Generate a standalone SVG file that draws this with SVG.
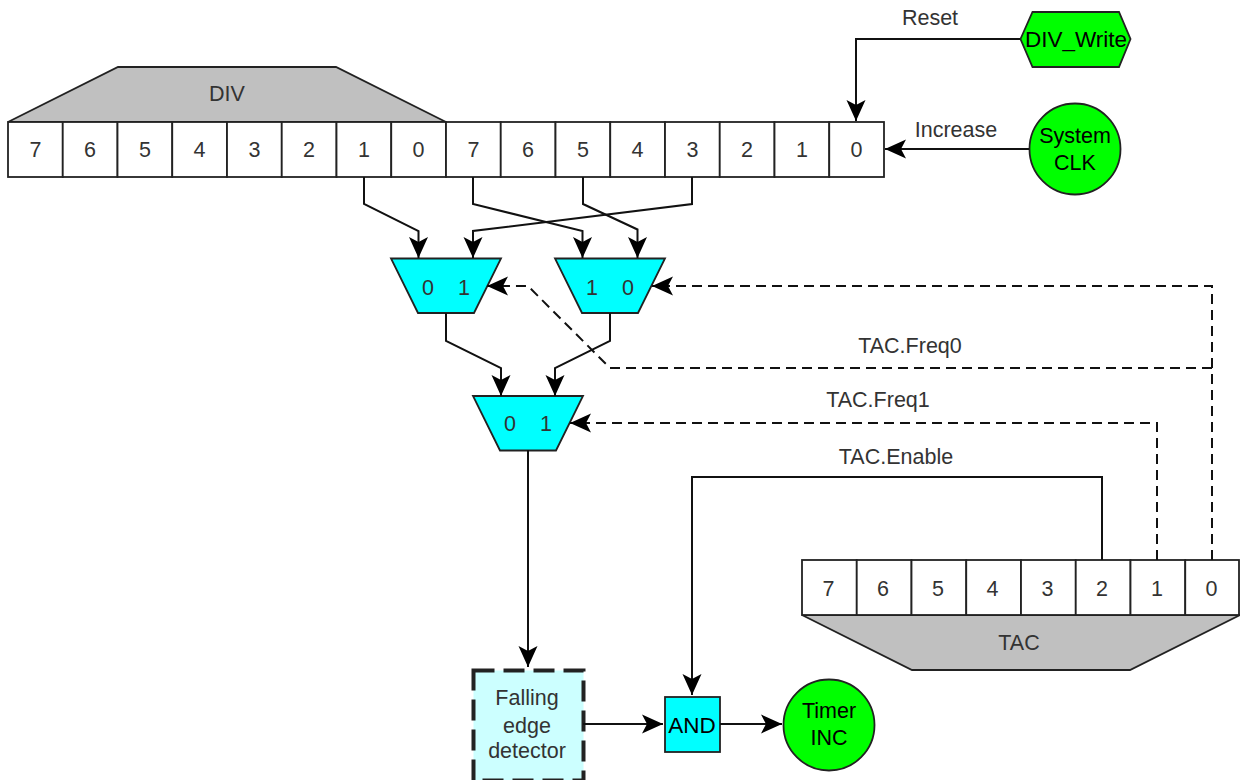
<svg xmlns="http://www.w3.org/2000/svg" width="1240" height="780" viewBox="0 0 1240 780">
<style>
text{font-family:"Liberation Sans",Arial,sans-serif;font-size:21.5px;fill:#333;text-anchor:middle}
.k{fill:#000}
.w{font-size:22.5px}
.c{fill:#fff;stroke:#222;stroke-width:1.8}
.g{fill:#c0c0c0;stroke:#222;stroke-width:1.8}
.m{fill:#00ffff;stroke:#222;stroke-width:1.8}
.n{fill:#00ff00;stroke:#222;stroke-width:1.8}
.l{fill:none;stroke:#111;stroke-width:2;marker-end:url(#a)}
.d{stroke-dasharray:10 6}
</style>
<defs>
<marker id="a" markerUnits="userSpaceOnUse" markerWidth="24" markerHeight="24" refX="21" refY="10" orient="auto">
<path d="M21 10L0 0.500L5 10L0 19.500Z" fill="#000"/>
</marker>
</defs>
<rect width="1240" height="780" fill="#fff"/>
<g id="DIV">
<path class="g" d="M8 122L118 67H336L446 122Z"/>
<text x="227" y="101">DIV</text>
<rect class="c" x="8" y="122" width="54.75" height="55"/><text x="35.4" y="157">7</text>
<rect class="c" x="62.75" y="122" width="54.75" height="55"/><text x="90.1" y="157">6</text>
<rect class="c" x="117.5" y="122" width="54.75" height="55"/><text x="144.9" y="157">5</text>
<rect class="c" x="172.25" y="122" width="54.75" height="55"/><text x="199.6" y="157">4</text>
<rect class="c" x="227" y="122" width="54.75" height="55"/><text x="254.4" y="157">3</text>
<rect class="c" x="281.75" y="122" width="54.75" height="55"/><text x="309.1" y="157">2</text>
<rect class="c" x="336.5" y="122" width="54.75" height="55"/><text x="363.9" y="157">1</text>
<rect class="c" x="391.25" y="122" width="54.75" height="55"/><text x="418.6" y="157">0</text>
<rect class="c" x="446" y="122" width="54.75" height="55"/><text x="473.4" y="157">7</text>
<rect class="c" x="500.75" y="122" width="54.75" height="55"/><text x="528.1" y="157">6</text>
<rect class="c" x="555.5" y="122" width="54.75" height="55"/><text x="582.9" y="157">5</text>
<rect class="c" x="610.25" y="122" width="54.75" height="55"/><text x="637.6" y="157">4</text>
<rect class="c" x="665" y="122" width="54.75" height="55"/><text x="692.4" y="157">3</text>
<rect class="c" x="719.75" y="122" width="54.75" height="55"/><text x="747.1" y="157">2</text>
<rect class="c" x="774.5" y="122" width="54.75" height="55"/><text x="801.9" y="157">1</text>
<rect class="c" x="829.25" y="122" width="54.75" height="55"/><text x="856.6" y="157">0</text>
</g>
<g id="TAC">
<path class="g" d="M802 615L912 670H1130L1240 615Z"/>
<text x="1019" y="650">TAC</text>
<rect class="c" x="802" y="560" width="54.75" height="55"/><text x="828.4" y="596">7</text>
<rect class="c" x="856.75" y="560" width="54.75" height="55"/><text x="883.1" y="596">6</text>
<rect class="c" x="911.5" y="560" width="54.75" height="55"/><text x="937.9" y="596">5</text>
<rect class="c" x="966.25" y="560" width="54.75" height="55"/><text x="992.6" y="596">4</text>
<rect class="c" x="1021" y="560" width="54.75" height="55"/><text x="1047.4" y="596">3</text>
<rect class="c" x="1075.75" y="560" width="54.75" height="55"/><text x="1102.1" y="596">2</text>
<rect class="c" x="1130.5" y="560" width="54.75" height="55"/><text x="1156.9" y="596">1</text>
<rect class="c" x="1185.25" y="560" width="53.75" height="55"/><text x="1211.6" y="596">0</text>
</g>
<g id="mux1"><path class="m" d="M391 258.500H501L474 313H418Z"/><text x="428" y="295">0</text><text x="464" y="295">1</text></g>
<g id="mux2"><path class="m" d="M555 258.500H665L638 313H582Z"/><text x="592" y="295">1</text><text x="628" y="295">0</text></g>
<g id="mux3"><path class="m" d="M473 396H583L556 450.500H500Z"/><text x="510" y="431">0</text><text x="546" y="431">1</text></g>
<g id="edge"><rect x="473.500" y="670.500" width="110" height="110" fill="#ccffff" stroke="#222" stroke-width="4" stroke-dasharray="21 9"/><text x="527" y="705">Falling</text><text x="527" y="733">edge</text><text x="527" y="758">detector</text></g>
<g id="and"><rect class="m" x="665" y="697" width="55" height="55"/><text class="k w" x="692" y="733">AND</text></g>
<g id="timer"><circle class="n" cx="829" cy="725" r="45.500"/><text class="k" x="829" y="718">Timer</text><text class="k" x="829" y="745">INC</text></g>
<g id="sysclk"><circle class="n" cx="1075" cy="149" r="45.500"/><text class="k" x="1075" y="143">System</text><text class="k" x="1075" y="170">CLK</text></g>
<g id="divwrite"><path class="n" d="M1020.500 39L1032.500 12H1119L1130.500 39L1119 67H1032.500Z"/><text class="k w" x="1076" y="47">DIV_Write</text></g>
<g id="connectors">
<path class="l" d="M1020 39H856V121"/>
<path class="l" d="M1029 149H885"/>
<path class="l" d="M364 177V204L418.500 231V258"/>
<path class="l" d="M473 177V204L582.500 231V258"/>
<path class="l" d="M583 177V204L637.500 229.500V258"/>
<path class="l" d="M692 177V204L473 231V258"/>
<path class="l" d="M446 313V341L501 368V396"/>
<path class="l" d="M610 313V341L555 368V396"/>
<path class="l d" d="M1212 560V286H652"/>
<path class="l d" d="M1212 368H610L528 286H487"/>
<path class="l d" d="M1157 560V423H570"/>
<path class="l" d="M1102 560V477H692V695"/>
<path class="l" d="M528 450V667"/>
<path class="l" d="M583 724H663"/>
<path class="l" d="M720 724H782"/>
</g>
<g id="labels">
<text x="930" y="25">Reset</text>
<text x="956" y="137">Increase</text>
<text x="910" y="353">TAC.Freq0</text>
<text x="878" y="407">TAC.Freq1</text>
<text x="896" y="464">TAC.Enable</text>
</g>
</svg>
